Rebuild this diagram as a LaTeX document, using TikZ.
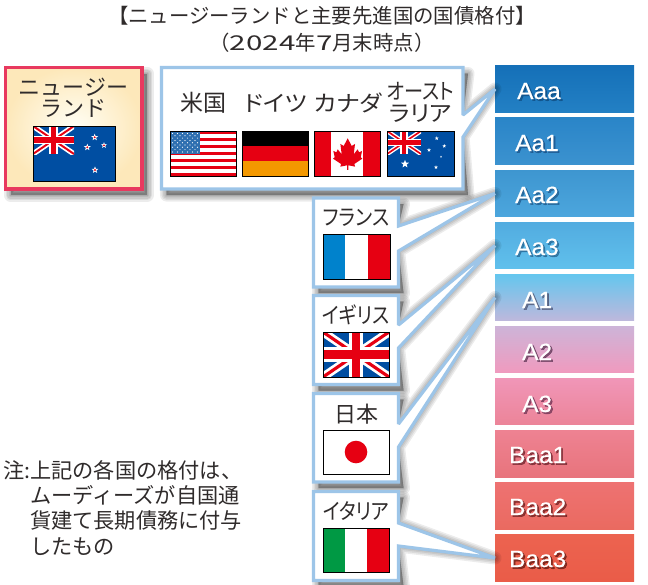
\documentclass[tikz,border=0pt]{standalone}
\usepackage{fontspec}
\setmainfont{Liberation Sans}
\newfontfamily\jp[RawFeature=+palt]{Noto Sans CJK JP}
\newfontfamily\jpn[RawFeature=+palt,FakeStretch=.87]{Noto Sans CJK JP}
\newfontfamily\jpa[RawFeature=+palt,FakeStretch=1.09]{Noto Sans CJK JP}
\newfontfamily\jpw{Noto Sans CJK JP}
\newfontfamily\jpdig[FakeStretch=1.45]{Noto Sans CJK JP}
\newfontfamily\ratefont[FakeStretch=1.04,FakeBold=.4]{Liberation Sans}
\newfontfamily\rateshade[FakeStretch=1.04,FakeBold=2.2]{Liberation Sans}
\definecolor{ink}{HTML}{2F2B2B}
\definecolor{boxblue}{HTML}{9DC5E8}
\definecolor{flagred}{HTML}{E60012}
\definecolor{flagblue}{HTML}{004EA2}
\definecolor{nzred}{HTML}{E8395F}
\definecolor{nzin}{HTML}{FFFFF6}
\definecolor{nzout}{HTML}{FDE8BA}
\definecolor{usblue}{HTML}{2E6FB0}
\definecolor{degold}{HTML}{F39800}
\definecolor{frblue}{HTML}{0082CC}
\definecolor{itgreen}{HTML}{009944}
\tikzset{
  ratebar/.style={minimum width=139pt,minimum height=46.5pt,inner sep=0pt,outer sep=0pt,draw=none},
  jplabel/.style={text=ink,align=center,inner sep=0pt,anchor=center},
  flagedge/.style={draw=black,line width=.9pt,fill=none},
  callout/.style={draw=boxblue,line width=3.2pt,fill=white,line join=miter,miter limit=2},
  ratelabel/.style={inner sep=0pt,anchor=base west},
}
\newcommand{\fs}{\fontsize{22}{21.5}\selectfont}
\newcommand{\softshadow}[1]{%
  \foreach \w in {13,10,7,4,1}{%
    \path[draw=black,fill=black,opacity=.075,line width=\w pt,line join=round,shift={(5,6)}] #1;}}
\newcommand{\calloutbox}[8]{%
  \coordinate (#1-a) at (#4,#6);
  \coordinate (#1-b) at (#4,#8);
  \softshadow{(#2,#3) -- (#4,#3) -- (#1-a) -- (#7.west) -- (#1-b) -- (#4,#5) -- (#2,#5) -- cycle}
  \path[callout] (#2,#3) -- (#4,#3) -- (#1-a) -- (#7.west) -- (#1-b) -- (#4,#5) -- (#2,#5) -- cycle;}
\newcommand{\ratebarnode}[4]{%
  \definecolor{ct}{HTML}{#3}\definecolor{cb}{HTML}{#4}%
  \node[ratebar,top color=ct,bottom color=cb] (#1) at (564.5,#2) {};}
\newcommand{\ratelab}[5]{%
  \definecolor{sh}{HTML}{#5}%
  \node[ratelabel,text=sh,opacity=.7,font=\rateshade\fontsize{23.5}{24}\selectfont] at (#2+1.7,#3+1.7) {#4};
  \node[ratelabel,text=white,font=\ratefont\fontsize{23.5}{24}\selectfont] (#1) at (#2,#3) {#4};}
\newcommand{\jack}[4]{%
  \begin{scope}[shift={(#1,#2)},xscale=#3,yscale=#4]
    \clip (0,0) rectangle (1,1);
    \fill[flagblue] (0,0) rectangle (1,1);
    \draw[white,line width=.19*#4 pt] (0,0) -- (1,1) (1,0) -- (0,1);
    \draw[flagred,line width=.07*#4 pt] (0,0) -- (1,1) (1,0) -- (0,1);
    \draw[white,line width=.32*#4 pt] (.5,0) -- (.5,1) (0,.5) -- (1,.5);
    \draw[flagred,line width=.18*#4 pt] (.5,0) -- (.5,1) (0,.5) -- (1,.5);
  \end{scope}}
\newcommand{\flagstar}[3]{%
  \begin{scope}[shift={(#1,#2)},scale=#3]
    \fill[white] (-90:1) -- (-54:.42) -- (-18:1) -- (18:.42) -- (54:1) -- (90:.42) -- (126:1) -- (162:.42) -- (198:1) -- (234:.42) -- cycle;
  \end{scope}}
\newcommand{\redstar}[3]{\flagstar{#1}{#2}{#3}\fill[flagred] (#1,#2) circle (.3*#3);}
\begin{document}
\begin{tikzpicture}[x=1pt,y=-1pt]
\useasboundingbox (0,0) rectangle (648,584);
\fill[white] (0,0) rectangle (648,584);

% title
\node[font=\jpw\fontsize{20.4}{26.5}\selectfont,text=ink,align=center,inner sep=0pt] (title) at (322,29.5)
  {【ニュージーランドと主要先進国の国債格付】\\（{\jpdig 2024}年{\jpdig 7}月末時点）};

% rating bars
\ratebarnode{aaa}{89}{1570B8}{2380C4}
\ratebarnode{aa1}{141}{2A85C8}{3B92CF}
\ratebarnode{aa2}{193.5}{3E96D0}{4CA6DD}
\ratebarnode{aa3}{245.5}{52ACE0}{60C0EC}
\ratebarnode{a1}{297.5}{64C6EE}{BEB8DC}
\ratebarnode{a2}{349.5}{CDB4D8}{F09ABE}
\ratebarnode{a3}{401.5}{F096B8}{EC8498}
\ratebarnode{baa1}{454}{EE8292}{E8747C}
\ratebarnode{baa2}{506}{EE7272}{EA6A60}
\ratebarnode{baa3}{558}{EC6350}{EA5C48}

% callouts
\calloutbox{main}{161.5}{67.5}{463}{189}{115}{aaa}{137}
\calloutbox{fr}{313.5}{198}{398.5}{287}{226}{aa2}{251}
\calloutbox{uk}{313.5}{295.5}{398.5}{384.5}{325}{aa3}{348}
\calloutbox{jp}{313.5}{393.5}{398.5}{482}{424}{a1}{447}
\calloutbox{it}{313.5}{491.5}{398.5}{580.5}{523}{baa3}{546}

% rating labels
\ratelab{laaa}{517}{99}{Aaa}{0F4C80}
\ratelab{laa1}{515}{151}{Aa1}{174F86}
\ratelab{laa2}{515}{203}{Aa2}{1F5A8C}
\ratelab{laa3}{515}{255}{Aa3}{23628F}
\ratelab{la1}{522}{308}{A1}{4A5272}
\ratelab{la2}{522}{360}{A2}{5A3050}
\ratelab{la3}{522}{412}{A3}{6A3050}
\ratelab{lbaa1}{509}{463}{Baa1}{6A2028}
\ratelab{lbaa2}{509}{515}{Baa2}{6A1C1C}
\ratelab{lbaa3}{509}{567}{Baa3}{601810}

% NZ box
\softshadow{(5.5,67.5) -- (142,67.5) -- (142,189) -- (5.5,189) -- cycle}
\node[draw=nzred,line width=3.2pt,inner color=nzin,outer color=nzout,minimum width=136.5pt,minimum height=121.5pt,inner sep=0pt,outer sep=0pt] (nzbox) at (73.75,128.25) {};
\node[jplabel,font=\jpw\fs] (nzname) at (73.5,97.5) {ニュージー\\ランド};

% NZ flag
\fill[flagblue] (33,126) rectangle (115,181);
\jack{33}{126}{41}{28}
\redstar{94.7}{137.3}{3.6}
\redstar{87.3}{147.3}{3.6}
\redstar{104}{145.3}{3.2}
\redstar{95}{170}{3.6}
\draw[flagedge] (33,126) rectangle (115,181);

% country names
\node[jplabel,font=\jpw\fontsize{23}{23}\selectfont] (usname) at (203,103) {米国};
\node[jplabel,font=\jpa\fs] (dename) at (275.5,103) {ドイツ};
\node[jplabel,font=\jpa\fs] (caname) at (348,103) {カナダ};
\node[jplabel,font=\fs] (auname) at (420.5,102.5) {{\jpn オースト}\\{\jpa ラリア}};
\node[jplabel,font=\jpn\fs] (frname) at (356,218) {フランス};
\node[jplabel,font=\jpn\fs] (ukname) at (356,315) {イギリス};
\node[jplabel,font=\jpw\fs] (jpname) at (356,414) {日本};
\node[jplabel,font=\jpn\fs] (itname) at (356,511) {イタリア};

% US flag
\fill[white] (170,131) rectangle (236,176);
\foreach \i in {0,2,...,12}{\fill[flagred] (170,131+\i*3.46) rectangle (236,131+\i*3.46+3.46);}
\fill[usblue] (170,131) rectangle (200,154);
\foreach \r in {0,...,8}{
  \pgfmathtruncatemacro{\odd}{mod(\r,2)}
  \ifnum\odd=0
    \foreach \c in {0,...,5}{\fill[white] (172.5+\c*5,133.5+\r*2.3) circle (.6);}
  \else
    \foreach \c in {0,...,4}{\fill[white] (175+\c*5,133.5+\r*2.3) circle (.6);}
  \fi}
\draw[flagedge] (170,131) rectangle (236,176);

% Germany
\fill[black] (242,131) rectangle (308,146);
\fill[flagred] (242,146) rectangle (308,161);
\fill[degold] (242,161) rectangle (308,176);
\draw[flagedge] (242,131) rectangle (308,176);

% Canada
\fill[flagred] (314,131) rectangle (380,176);
\fill[white] (331,131) rectangle (363,176);
\begin{scope}[shift={(347.7,138.3)},scale=.3333]
  \fill[flagred] (0,0) -- (12,23) -- (22,17) -- (18,48) -- (30,33) -- (34,42) -- (43,38) -- (39,57) -- (44,61) -- (20,77) -- (22,85) -- (2,81) -- (2,95) -- (-2,95) -- (-2,81) -- (-22,85) -- (-20,77) -- (-44,61) -- (-39,57) -- (-43,38) -- (-34,42) -- (-30,33) -- (-18,48) -- (-22,17) -- (-12,23) -- cycle;
\end{scope}
\draw[flagedge] (314,131) rectangle (380,176);

% Australia
\fill[flagblue] (387,131) rectangle (454,176);
\jack{387}{131}{34}{23}
\flagstar{436.7}{138.3}{2}
\flagstar{444.3}{146}{2}
\flagstar{429}{150}{2}
\flagstar{441}{156.7}{1}
\flagstar{436}{167.3}{2}
\flagstar{405}{164}{4.2}
\draw[flagedge] (387,131) rectangle (454,176);

% France
\fill[frblue] (323,234) rectangle (345.3,279);
\fill[white] (345.3,234) rectangle (367.7,279);
\fill[flagred] (367.7,234) rectangle (390,279);
\draw[flagedge] (323,234) rectangle (390,279);

% UK
\jack{323}{332}{66}{45}
\draw[flagedge] (323,332) rectangle (389,377);

% Japan
\fill[white] (323,430) rectangle (389,474);
\fill[flagred] (356,452) circle (11.3);
\draw[flagedge] (323,430) rectangle (389,474);

% Italy
\fill[itgreen] (323,528) rectangle (345,572);
\fill[white] (345,528) rectangle (367,572);
\fill[flagred] (367,528) rectangle (389,572);
\draw[flagedge] (323,528) rectangle (389,572);

% note
\node[font=\jpw\fontsize{21.2}{25.4}\selectfont,text=ink,align=left,anchor=north west,inner sep=0pt] (note) at (3,460)
  {注:上記の各国の格付は、\\\hspace*{27pt}ムーディーズが自国通\\\hspace*{27pt}貨建て長期債務に付与\\\hspace*{27pt}したもの};
\end{tikzpicture}
\end{document}
